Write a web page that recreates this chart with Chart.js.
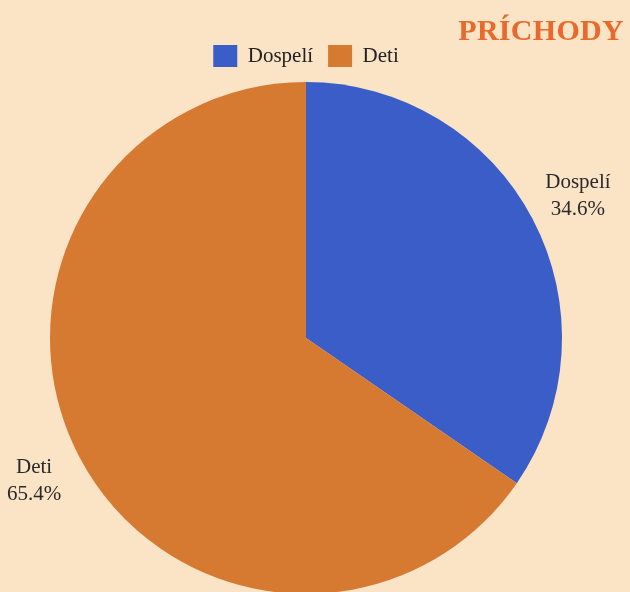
<!DOCTYPE html>
<html lang="sk">
<head>
<meta charset="utf-8">
<title>Príchody</title>
<script src="https://cdn.jsdelivr.net/npm/chart.js@4.4.1/dist/chart.umd.min.js"></script>
<style>
  html, body { margin:0; padding:0; background:#fbe3c6; overflow:hidden; }
  #wrap { position:relative; width:630px; height:592px; overflow:hidden; }
  #title { position:absolute; right:6px; top:13px; font-family:'Liberation Serif', serif;
           font-weight:bold; font-size:30px; color:#e8692a; letter-spacing:0.3px; }
</style>
</head>
<body>
<div id="wrap">
  <canvas id="myChart" width="630" height="596"></canvas>
  <div id="title">PRÍCHODY</div>
</div>
<script>
// data
var labels = ['Dospelí', 'Deti'];
var shares = [34.6, 65.4];
var colors = ['#3b5dc7', '#d67a31'];

Chart.defaults.font.family = "'Liberation Serif', serif";
Chart.defaults.color = '#2a2a2a';

// a bit more room under the legend
var legendGap = {
  id: 'legendGap',
  beforeInit: function(chart) {
    var fit = chart.legend.fit;
    chart.legend.fit = function() {
      fit.call(this);
      this.height += 5;
    };
  }
};

// draws "name / value%" outside every slice
var outsideLabels = {
  id: 'outsideLabels',
  afterDatasetsDraw: function(chart) {
    var ctx = chart.ctx;
    var meta = chart.getDatasetMeta(0);
    ctx.save();
    ctx.font = "21px 'Liberation Serif', serif";
    ctx.fillStyle = '#2a2a2a';
    ctx.textAlign = 'center';
    ctx.textBaseline = 'middle';
    meta.data.forEach(function(arc, i) {
      var p = arc.getProps(['x', 'y', 'startAngle', 'endAngle', 'outerRadius'], true);
      var mid = (p.startAngle + p.endAngle) / 2;
      var r = p.outerRadius * 1.2;
      var x = p.x + Math.cos(mid) * r;
      var y = p.y + Math.sin(mid) * r;
      ctx.fillText(labels[i], x, y - 13);
      ctx.fillText(shares[i].toFixed(1) + '%', x, y + 14);
    });
    ctx.restore();
  }
};

var chart = new Chart(document.getElementById('myChart').getContext('2d'), {
  type: 'pie',
  data: {
    labels: labels,
    datasets: [{
      data: shares,
      backgroundColor: colors,
      borderWidth: 0
    }]
  },
  options: {
    responsive: false,
    animation: false,
    layout: { padding: { top: 30, bottom: 2, left: 0, right: 18 } },
    plugins: {
      legend: {
        position: 'top',
        labels: { boxWidth: 24, boxHeight: 22, padding: 15, color: '#222',
                  font: { size: 21 } }
      },
      tooltip: { enabled: false }
    }
  },
  plugins: [legendGap, outsideLabels]
});
</script>
</body>
</html>
